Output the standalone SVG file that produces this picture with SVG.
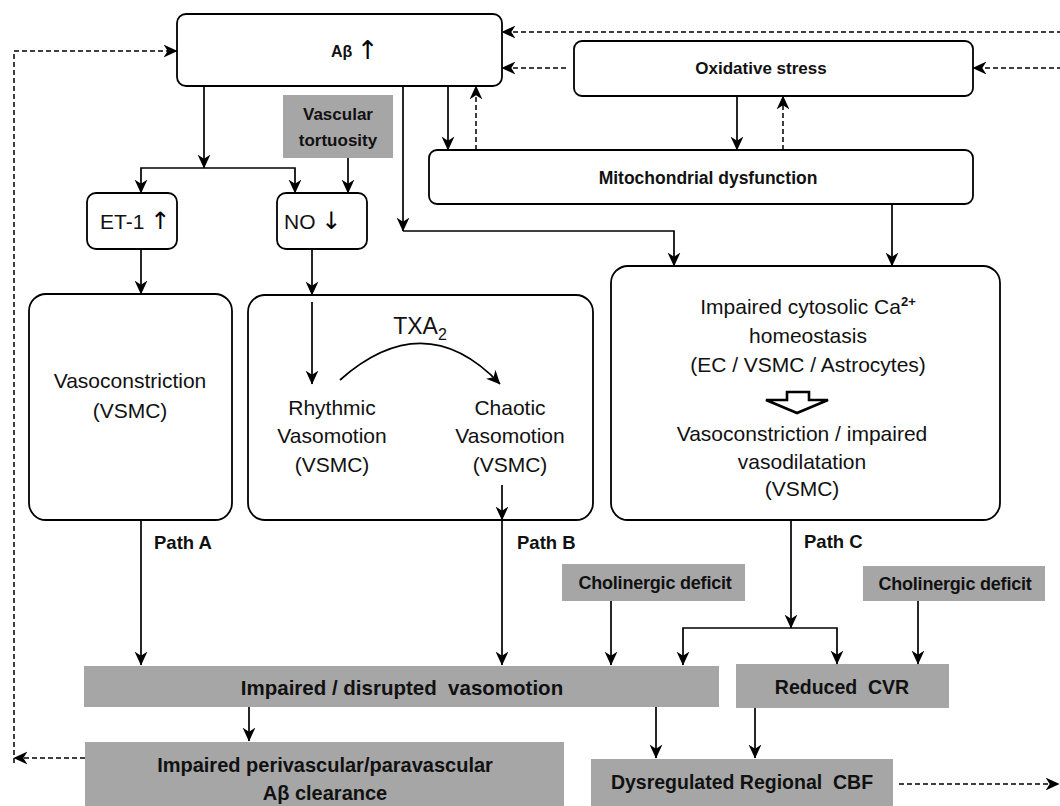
<svg xmlns="http://www.w3.org/2000/svg" width="1060" height="806" viewBox="0 0 1060 806">
<defs>
<marker id="ah" viewBox="0 0 12 12" refX="11.5" refY="6" markerWidth="14" markerHeight="14" markerUnits="userSpaceOnUse" orient="auto">
<path d="M0,0.5 L12,6 L0,11.5 L3.5,6 z" fill="#000"/>
</marker>
<style>
.box{fill:#fff;stroke:#000;stroke-width:1.8}
.gray{fill:#a6a6a6;stroke:none}
.ln{fill:none;stroke:#000;stroke-width:1.7;marker-end:url(#ah)}
.dl{fill:none;stroke:#000;stroke-width:1.5;stroke-dasharray:5,3;marker-end:url(#ah)}
text{font-family:"Liberation Sans",Arial,sans-serif;fill:#111}
.n{font-size:21px}
.c{text-anchor:middle}
.b{font-weight:bold}
.ar{font-family:"DejaVu Sans",sans-serif;font-weight:normal;fill:#000}
</style>
</defs>
<rect width="1060" height="806" fill="#fff"/>

<g id="abeta">
<rect class="box" x="177" y="14" width="325" height="72" rx="9"/>
<text x="331" y="57" class="b" font-size="16">Aβ <tspan class="ar" font-size="26" dy="2">↑</tspan></text>
</g>

<g id="oxidative">
<rect class="box" x="574" y="41" width="399" height="55" rx="8"/>
<text x="761" y="74" class="b c" font-size="17">Oxidative stress</text>
</g>

<g id="mito">
<rect class="box" x="429" y="150" width="544" height="54" rx="8"/>
<text x="708" y="184" class="b c" font-size="17.5">Mitochondrial dysfunction</text>
</g>

<g id="tortuosity">
<rect class="gray" x="283" y="95" width="110" height="63"/>
<text x="338" y="120" class="b c" font-size="17">Vascular</text>
<text x="338" y="146" class="b c" font-size="17">tortuosity</text>
</g>

<g id="et1">
<rect class="box" x="87" y="193" width="90" height="56" rx="9"/>
<text x="100" y="229" class="n">ET-1 <tspan class="ar" font-size="24">↑</tspan></text>
</g>

<g id="no">
<rect class="box" x="277" y="193" width="90" height="56" rx="9"/>
<text x="284" y="229" class="n">NO <tspan class="ar" font-size="24">↓</tspan></text>
</g>

<g id="vasoconstriction">
<rect class="box" x="29" y="294" width="203" height="226" rx="17"/>
<text x="130" y="388" class="n c">Vasoconstriction</text>
<text x="130" y="418" class="n c">(VSMC)</text>
</g>

<g id="vasomotion">
<rect class="box" x="248" y="295" width="345" height="225" rx="17"/>
<text x="420" y="334" class="c" font-size="23">TXA<tspan font-size="16" dy="6">2</tspan></text>
<text x="332" y="415" class="n c">Rhythmic</text>
<text x="332" y="443" class="n c">Vasomotion</text>
<text x="332" y="472" class="n c">(VSMC)</text>
<text x="510" y="415" class="n c">Chaotic</text>
<text x="510" y="443" class="n c">Vasomotion</text>
<text x="510" y="472" class="n c">(VSMC)</text>
</g>

<g id="calcium">
<rect class="box" x="611" y="266" width="389" height="254" rx="17"/>
<text x="808" y="314" class="n c">Impaired cytosolic Ca<tspan font-size="13" font-weight="bold" dy="-8">2+</tspan></text>
<text x="808" y="343" class="n c">homeostasis</text>
<text x="808" y="372" class="n c">(EC / VSMC / Astrocytes)</text>
<polygon points="787,392 809,392 809,400 828,400 797,413 766,400 787,400" fill="#fff" stroke="#000" stroke-width="2.6"/>
<text x="802" y="441" class="n c">Vasoconstriction / impaired</text>
<text x="802" y="469" class="n c">vasodilatation</text>
<text x="802" y="496" class="n c">(VSMC)</text>
</g>

<g id="labels">
<text x="154" y="549" class="b" font-size="18.5">Path A</text>
<text x="517" y="549" class="b" font-size="18.5">Path B</text>
<text x="804" y="548" class="b" font-size="18.5">Path C</text>
</g>

<g id="chol1">
<rect class="gray" x="562" y="564" width="183" height="37"/>
<text x="655" y="589" class="b c" font-size="18" letter-spacing="-0.2">Cholinergic deficit</text>
</g>

<g id="chol2">
<rect class="gray" x="863" y="566" width="182" height="35"/>
<text x="955" y="590" class="b c" font-size="18" letter-spacing="-0.2">Cholinergic deficit</text>
</g>

<g id="impaired-vasomotion">
<rect class="gray" x="84" y="666" width="635" height="41"/>
<text x="402" y="695" class="b c" font-size="20.5" xml:space="preserve">Impaired / disrupted  vasomotion</text>
</g>

<g id="cvr">
<rect class="gray" x="736" y="664" width="213" height="44"/>
<text x="842" y="694" class="b c" font-size="19.5" xml:space="preserve">Reduced  CVR</text>
</g>

<g id="clearance">
<rect class="gray" x="85" y="742" width="479" height="66"/>
<text x="325" y="772" class="b c" font-size="20">Impaired perivascular/paravascular</text>
<text x="325" y="800" class="b c" font-size="20">Aβ clearance</text>
</g>

<g id="cbf">
<rect class="gray" x="591" y="759" width="302" height="49"/>
<text x="742" y="789" class="b c" font-size="19.5" xml:space="preserve">Dysregulated Regional  CBF</text>
</g>

<g id="connectors">
<path class="dl" d="M85,758 L14,758"/>
<path class="dl" d="M14,763 L14,51 L177,51"/>
<path class="dl" d="M1062,32 L502,32"/>
<path class="dl" d="M566,68 L502,68"/>
<path class="dl" d="M1062,68 L973,68"/>
<path class="ln" d="M448,86 L448,150"/>
<path class="dl" d="M476,150 L476,86"/>
<path class="ln" d="M737,96 L737,150"/>
<path class="dl" d="M783,150 L783,96"/>
<path class="ln" d="M403,86 L403,231"/>
<path class="ln" d="M403,231 L674,231 L674,266"/>
<path class="ln" d="M892,204 L892,266"/>
<path class="ln" d="M204,86 L204,168"/>
<path class="ln" d="M204,168 L141,168 L141,193"/>
<path class="ln" d="M204,168 L295,168 L295,193"/>
<path class="ln" d="M348,158 L348,193"/>
<path class="ln" d="M141,249 L141,294"/>
<path class="ln" d="M312,249 L312,295"/>
<path class="ln" d="M312,302 L312,384"/>
<path class="ln" d="M340,380 Q425,305 500,384"/>
<path class="ln" d="M502,485 L502,520"/>
<path class="ln" d="M502,520 L502,665"/>
<path class="ln" d="M141,520 L141,665"/>
<path class="ln" d="M791,520 L791,628"/>
<path class="ln" d="M791,628 L683,628 L683,665"/>
<path class="ln" d="M791,628 L837,628 L837,664"/>
<path class="ln" d="M611,601 L611,665"/>
<path class="ln" d="M918,601 L918,664"/>
<path class="ln" d="M249,707 L249,741"/>
<path class="ln" d="M656,707 L656,758"/>
<path class="ln" d="M755,708 L755,758"/>
<path class="dl" d="M899,784 L1059,784"/>
</g>
</svg>
